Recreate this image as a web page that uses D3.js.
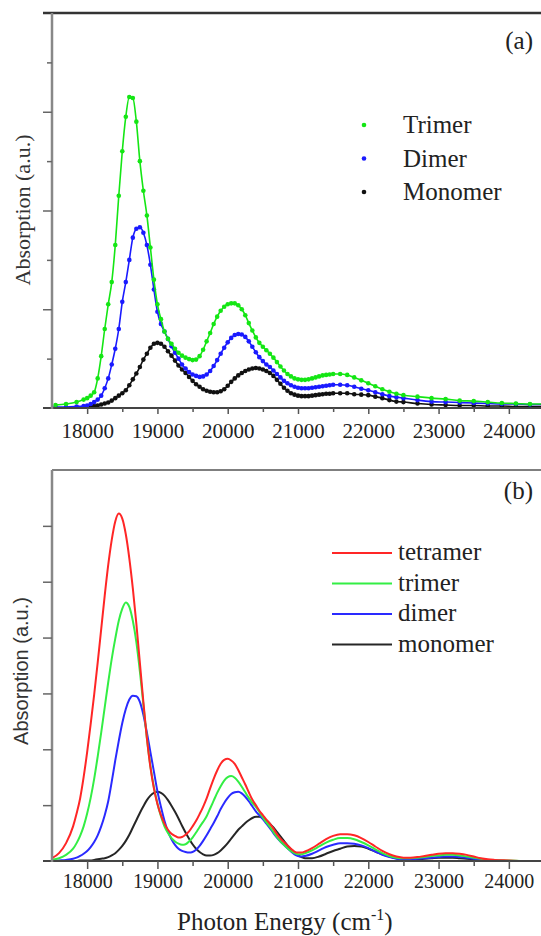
<!DOCTYPE html>
<html><head><meta charset="utf-8">
<script src="https://cdn.jsdelivr.net/npm/d3@7"></script>
<style>body{margin:0;background:#fff}svg{display:block}</style>
</head><body><svg id="c" width="541" height="936"></svg>
<script>
// ---------- tick labels ----------
const xMajorTicks = [18000,19000,20000,21000,22000,23000,24000];
const xMinorTicks = [18500,19500,20500,21500,22500,23500];
const yTicksA_major = [2,4,6];
const yTicksA_minor = [1,3,5,7];
const yTicksB = [1,2,3,4,5,6];

// ---------- panel (a): measured spectra ----------
const energyA = [
17550,17700,17850,17950,18000,18050,18100,18150,18200,18250,
18300,18350,18400,18450,18500,18550,18600,18650,18700,18750,
18800,18850,18900,18950,19000,19050,19100,19150,19200,19250,
19300,19350,19400,19450,19500,19550,19600,19650,19700,19750,
19800,19850,19900,19950,20000,20050,20100,20150,20200,20250,
20300,20350,20400,20450,20500,20550,20600,20650,20700,20750,
20800,20850,20900,20950,21000,21050,21100,21150,21200,21250,
21300,21350,21400,21450,21500,21600,21700,21800,21900,22000,
22100,22200,22300,22400,22500,22700,22900,23100,23300,23500,
23700,23900,24100,24300,24500];
const trimerA = [
0.06,0.08,0.12,0.17,0.2,0.25,0.32,0.6,1.05,1.6,
2.1,2.55,3.3,4.3,5.2,5.9,6.3,6.28,5.8,5.0,
4.4,3.9,3.25,2.6,2.1,1.8,1.55,1.4,1.3,1.2,
1.12,1.06,1.02,0.99,0.97,0.98,1.05,1.18,1.35,1.52,
1.7,1.85,1.97,2.05,2.1,2.12,2.12,2.08,2.0,1.88,
1.72,1.57,1.43,1.32,1.24,1.17,1.1,1.02,0.93,0.84,
0.76,0.69,0.64,0.6,0.58,0.57,0.57,0.58,0.6,0.62,
0.64,0.66,0.67,0.68,0.69,0.69,0.67,0.62,0.56,0.5,
0.44,0.38,0.33,0.29,0.26,0.23,0.2,0.18,0.15,0.14,
0.12,0.1,0.09,0.08,0.08];
const dimerA = [
0.02,0.02,0.03,0.04,0.05,0.08,0.12,0.17,0.25,0.4,
0.6,0.88,1.2,1.6,2.15,2.55,3.0,3.45,3.63,3.66,
3.55,3.3,2.9,2.4,1.95,1.7,1.55,1.4,1.25,1.12,
1.0,0.88,0.8,0.73,0.68,0.65,0.63,0.64,0.68,0.75,
0.85,0.97,1.1,1.22,1.33,1.42,1.48,1.5,1.49,1.44,
1.35,1.24,1.13,1.03,0.95,0.88,0.83,0.76,0.69,0.62,
0.55,0.5,0.46,0.43,0.41,0.4,0.4,0.4,0.41,0.42,
0.43,0.44,0.45,0.46,0.47,0.47,0.46,0.43,0.39,0.36,
0.32,0.28,0.24,0.22,0.2,0.16,0.13,0.12,0.11,0.1,
0.09,0.08,0.08,0.07,0.07];
const monomerA = [
0.0,0.0,0.01,0.01,0.02,0.03,0.04,0.05,0.07,0.09,
0.11,0.15,0.2,0.25,0.3,0.36,0.46,0.58,0.7,0.83,
0.98,1.1,1.22,1.3,1.32,1.3,1.24,1.15,1.06,0.96,
0.86,0.78,0.71,0.63,0.55,0.48,0.43,0.38,0.35,0.33,
0.32,0.32,0.34,0.38,0.45,0.53,0.6,0.66,0.71,0.75,
0.78,0.8,0.81,0.8,0.78,0.75,0.71,0.65,0.57,0.49,
0.41,0.35,0.3,0.27,0.25,0.24,0.24,0.24,0.25,0.26,
0.27,0.28,0.29,0.29,0.3,0.3,0.3,0.28,0.27,0.26,
0.23,0.2,0.16,0.13,0.12,0.09,0.07,0.06,0.05,0.05,
0.04,0.04,0.03,0.03,0.03];

// ---------- panel (b): simulated spectra ----------
const energyB = [
17500,17600,17700,17800,17850,17900,17950,18000,18050,18100,
18150,18200,18250,18300,18350,18400,18450,18500,18550,18600,
18650,18700,18750,18800,18850,18900,18950,19000,19050,19100,
19150,19200,19250,19300,19350,19400,19450,19500,19550,19600,
19650,19700,19750,19800,19850,19900,19950,20000,20050,20100,
20150,20200,20250,20300,20350,20400,20450,20500,20550,20600,
20650,20700,20750,20800,20850,20900,20950,21000,21050,21100,
21200,21300,21400,21500,21600,21700,21800,21900,22000,22100,
22200,22300,22400,22500,22600,22700,22800,22900,23000,23100,
23200,23300,23400,23500,23600,23700,23800,24000,24200,24500];
const tetramerB = [
0.05,0.14,0.32,0.62,0.85,1.12,1.5,1.95,2.45,2.98,
3.55,4.15,4.75,5.3,5.75,6.08,6.22,6.13,5.85,5.42,
4.88,4.25,3.55,2.85,2.2,1.68,1.3,1.02,0.82,0.67,
0.56,0.49,0.45,0.42,0.43,0.47,0.53,0.62,0.72,0.84,
0.97,1.12,1.3,1.47,1.62,1.74,1.81,1.83,1.8,1.74,
1.63,1.5,1.37,1.23,1.1,1.0,0.9,0.82,0.74,0.67,
0.58,0.48,0.4,0.34,0.28,0.22,0.17,0.15,0.15,0.17,
0.23,0.31,0.39,0.45,0.48,0.48,0.46,0.41,0.34,0.26,
0.18,0.12,0.08,0.06,0.06,0.07,0.09,0.11,0.13,0.14,
0.14,0.13,0.11,0.08,0.05,0.03,0.02,0.01,0,0];
const trimerB = [
0.02,0.05,0.11,0.22,0.32,0.45,0.62,0.85,1.13,1.47,
1.87,2.3,2.75,3.2,3.62,3.98,4.3,4.52,4.63,4.55,
4.3,3.92,3.4,2.8,2.2,1.7,1.32,1.03,0.8,0.62,
0.5,0.41,0.35,0.31,0.29,0.3,0.35,0.42,0.51,0.61,
0.7,0.8,0.94,1.08,1.22,1.34,1.44,1.5,1.52,1.49,
1.42,1.33,1.23,1.13,1.04,0.97,0.88,0.78,0.69,0.61,
0.52,0.43,0.35,0.29,0.23,0.18,0.14,0.12,0.12,0.14,
0.19,0.26,0.33,0.38,0.41,0.41,0.39,0.34,0.28,0.21,
0.14,0.09,0.06,0.05,0.05,0.06,0.07,0.09,0.1,0.11,
0.11,0.1,0.08,0.06,0.04,0.02,0.01,0.01,0,0];
const dimerB = [
0.0,0.01,0.02,0.04,0.06,0.09,0.13,0.18,0.25,0.34,
0.46,0.62,0.82,1.07,1.42,1.8,2.15,2.47,2.72,2.89,
2.96,2.95,2.85,2.62,2.3,1.95,1.6,1.25,0.97,0.72,
0.53,0.39,0.29,0.22,0.18,0.16,0.15,0.16,0.2,0.27,
0.36,0.46,0.57,0.68,0.8,0.93,1.04,1.13,1.2,1.23,
1.24,1.21,1.15,1.07,0.98,0.89,0.82,0.75,0.67,0.59,
0.5,0.42,0.35,0.29,0.23,0.17,0.12,0.09,0.08,0.09,
0.13,0.19,0.25,0.29,0.32,0.32,0.31,0.28,0.23,0.17,
0.11,0.07,0.04,0.03,0.03,0.04,0.05,0.06,0.07,0.08,
0.08,0.07,0.06,0.04,0.03,0.02,0.01,0,0,0];
const monomerB = [
0,0,0,0,0,0.01,0.01,0.01,0.01,0.02,
0.03,0.04,0.05,0.07,0.1,0.14,0.2,0.27,0.36,0.47,
0.6,0.73,0.86,0.98,1.09,1.17,1.22,1.24,1.22,1.17,
1.09,0.99,0.88,0.76,0.63,0.51,0.4,0.3,0.22,0.16,
0.12,0.1,0.1,0.11,0.14,0.19,0.25,0.32,0.4,0.48,
0.56,0.62,0.68,0.73,0.77,0.79,0.79,0.77,0.73,0.67,
0.6,0.52,0.44,0.36,0.28,0.21,0.15,0.1,0.07,0.05,
0.05,0.08,0.13,0.18,0.22,0.26,0.27,0.26,0.22,0.17,
0.12,0.08,0.05,0.03,0.03,0.03,0.04,0.05,0.06,0.06,
0.06,0.05,0.04,0.03,0.02,0.01,0.01,0,0,0];

const legendA = ["Trimer","Dimer","Monomer"];
const legendB = ["tetramer","trimer","dimer","monomer"];

// ---------- drawing ----------
const SERIF = "Liberation Serif, Tinos, DejaVu Serif, Noto Serif, Times New Roman, serif";
const SANS = "Liberation Sans, Arimo, Arial, sans-serif";
const svg = d3.select("#c");
const W = 541;

const x = d3.scaleLinear().domain([17500,24500]).range([52,544]);
const yA = d3.scaleLinear().domain([0,8]).range([408,13]);
const yB = d3.scaleLinear().domain([0,7]).range([861,470]);

const defs = svg.append("defs");
defs.append("clipPath").attr("id","clipA").append("rect").attr("x",52).attr("y",13).attr("width",W-52).attr("height",395);
defs.append("clipPath").attr("id","clipB").append("rect").attr("x",52).attr("y",470).attr("width",W-52).attr("height",391);

function hline(y, x1, x2, color, w){
  svg.append("line").attr("x1",x1).attr("x2",x2).attr("y1",y).attr("y2",y)
    .attr("stroke",color).attr("stroke-width",w);
}
function vline(xp, y1, y2, color, w){
  svg.append("line").attr("x1",xp).attr("x2",xp).attr("y1",y1).attr("y2",y2)
    .attr("stroke",color).attr("stroke-width",w);
}
function label(xp, yp, txt, size, opts){
  const t = svg.append("text").attr("x",xp).attr("y",yp)
    .attr("font-family",(opts&&opts.sans)?SANS:SERIF).attr("font-size",size)
    .attr("fill","#222").text(txt);
  if (opts && opts.anchor) t.attr("text-anchor",opts.anchor);
  return t;
}
function xAxis(y0, majLen, minLen, labelY, fs){
  const gMaj = svg.append("g").attr("transform",`translate(0,${y0})`)
    .call(d3.axisBottom(x).tickValues(xMajorTicks).tickSize(majLen).tickSizeOuter(0).tickFormat(d3.format("d")));
  gMaj.attr("font-family",SERIF).attr("font-size",fs);
  gMaj.select(".domain").remove();
  gMaj.selectAll("line").attr("stroke","#555").attr("stroke-width",1.5);
  gMaj.selectAll("text").attr("y",labelY).attr("dy",0).attr("fill","#222")
    .attr("font-family",SERIF).attr("font-size",fs);
  const gMin = svg.append("g").attr("transform",`translate(0,${y0})`)
    .call(d3.axisBottom(x).tickValues(xMinorTicks).tickSize(minLen).tickFormat(""));
  gMin.select(".domain").remove();
  gMin.selectAll("line").attr("stroke","#555").attr("stroke-width",1.5);
}
function yAxis(scale, vals, len){
  const g = svg.append("g").attr("transform","translate(52,0)")
    .call(d3.axisLeft(scale).tickValues(vals).tickSize(len).tickFormat(""));
  g.select(".domain").remove();
  g.selectAll("line").attr("stroke","#666").attr("stroke-width",1.5);
}

// ----- panel a -----
const seriesA = [
  {vals:trimerA, color:"#14e614"},
  {vals:dimerA, color:"#1a1aff"},
  {vals:monomerA, color:"#111111"}
];
const gA = svg.append("g").attr("clip-path","url(#clipA)");
const lineA = d3.line().x(d=>x(d[0])).y(d=>yA(d[1])).curve(d3.curveMonotoneX);
[...seriesA].reverse().forEach(s=>{
  const pts = energyA.map((e,i)=>[e,s.vals[i]]);
  gA.append("path").datum(pts).attr("d",lineA).attr("fill","none")
    .attr("stroke",s.color).attr("stroke-width",1.6);
  gA.selectAll(null).data(pts).enter().append("circle")
    .attr("cx",d=>x(d[0])).attr("cy",d=>yA(d[1])).attr("r",2.3).attr("fill",s.color);
});
hline(13,43,W,"#333",2.5);
hline(408,43,W,"#444",2);
vline(52,13,409,"#888",2.5);
yAxis(yA, yTicksA_major, 9);
yAxis(yA, yTicksA_minor, 5);
xAxis(408,6,4,30,21);

label(0,0,"Absorption (a.u.)",22,{anchor:"middle"})
  .attr("transform","translate(30,210) rotate(-90)").attr("fill","#333");
label(533,49,"(a)",25,{anchor:"end"});

seriesA.forEach((s,i)=>{
  const yy = 133 + i*33.5;
  svg.append("circle").attr("cx",364).attr("cy",yy-8).attr("r",2.3).attr("fill",s.color);
  label(403,yy,legendA[i],25);
});

// ----- panel b -----
const seriesB = [
  {vals:tetramerB, color:"#ff2626"},
  {vals:trimerB, color:"#33ee44"},
  {vals:dimerB, color:"#2a2aff"},
  {vals:monomerB, color:"#262626"}
];
const gB = svg.append("g").attr("clip-path","url(#clipB)");
const lineB = d3.line().x(d=>x(d[0])).y(d=>yB(d[1])).curve(d3.curveMonotoneX);
[...seriesB].reverse().forEach(s=>{
  const pts = energyB.map((e,i)=>[e,s.vals[i]]);
  gB.append("path").datum(pts).attr("d",lineB).attr("fill","none")
    .attr("stroke",s.color).attr("stroke-width",2);
});
hline(470,52,W,"#555",1.5);
hline(861,43,W,"#444",2);
vline(52,470,862,"#888",2.5);
yAxis(yB, yTicksB, 9);
xAxis(861,8,5,27,20);

label(0,0,"Absorption (a.u.)",20,{anchor:"middle",sans:true})
  .attr("transform","translate(28,671) rotate(-90)").attr("fill","#333");
label(533,499,"(b)",25,{anchor:"end"});

seriesB.forEach((s,i)=>{
  const yy = 553 + i*30.5;
  svg.append("line").attr("x1",332).attr("x2",392).attr("y1",yy).attr("y2",yy)
    .attr("stroke",s.color).attr("stroke-width",2);
  label(398,yy+7,legendB[i],25);
});

const xt = label(177,930,"",25);
xt.append("tspan").text("Photon Energy (cm");
xt.append("tspan").attr("dy",-10).attr("font-size",16).text("-1");
xt.append("tspan").attr("dy",10).text(")");
</script></body></html>
